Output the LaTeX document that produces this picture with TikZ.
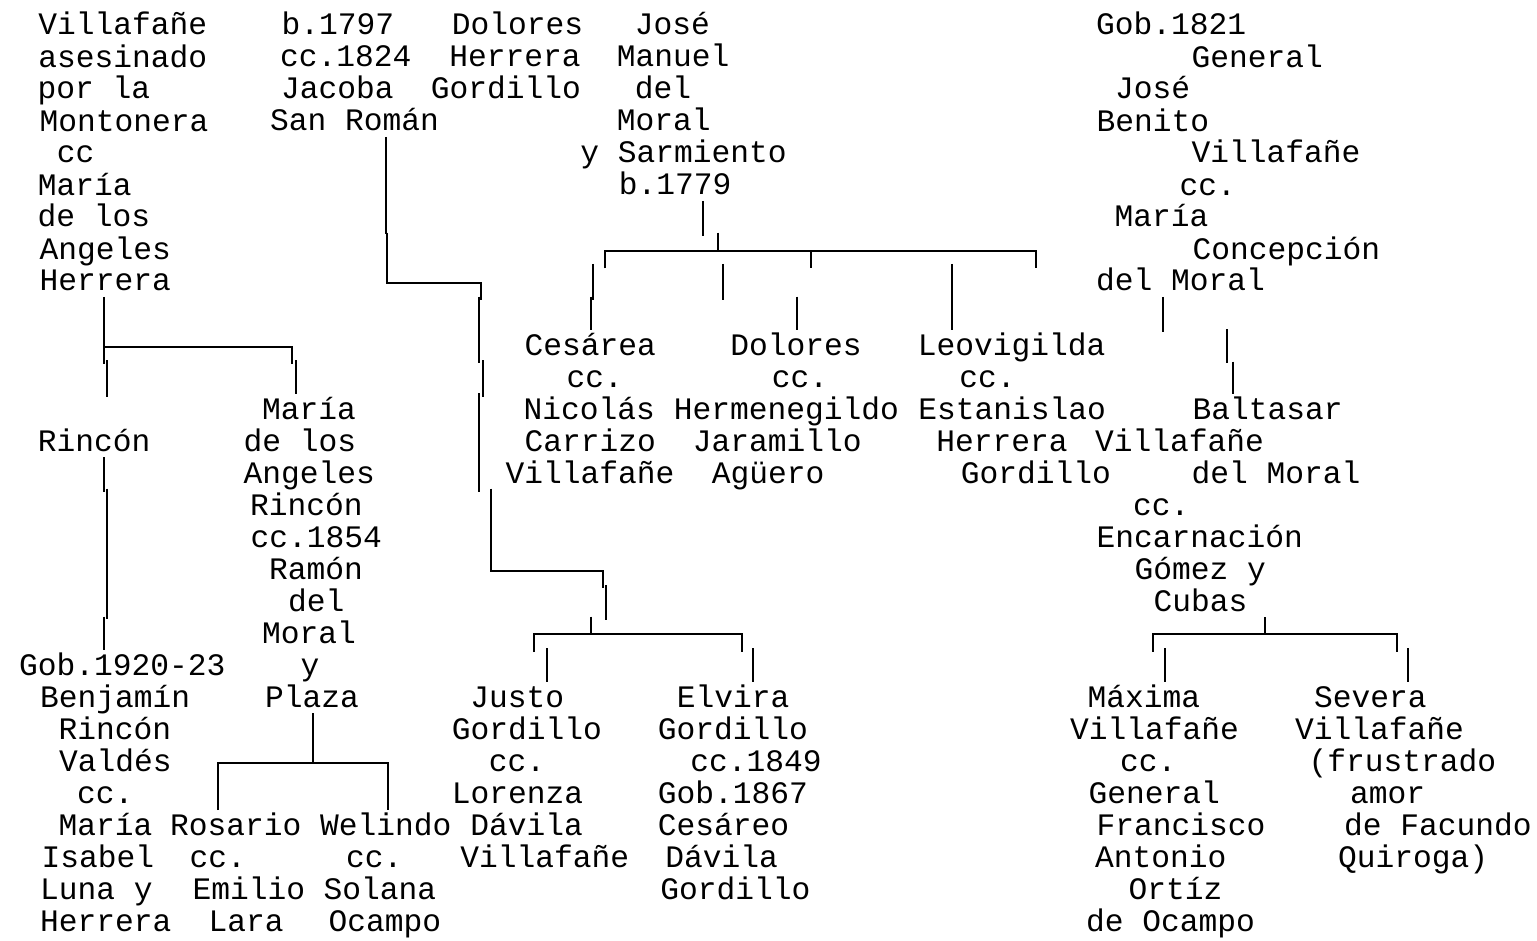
\documentclass[tikz,border=0pt]{standalone}
\usepackage{fontspec}
\newfontfamily\treemono{Liberation Mono}
\newcommand{\pad}[1]{\rule[-6pt]{0pt}{31pt}\hspace*{#1pt}}
\newcommand{\treefont}{\treemono\fontsize{31.25pt}{32pt}\selectfont\lineskiplimit -100pt\relax}

\begin{document}
\begin{tikzpicture}[x=1pt,y=-1pt,
  person/.style={font=\treefont, inner sep=0pt, outer sep=0pt, align=left, anchor=north west},
  link/.style={line width=2pt}]
\useasboundingbox[fill=white] (0,0) rectangle (1537,941);

\node[person] (villa) at (37.5,10) {\pad{1}Villafañe\\ \pad{1}asesinado\\ \pad{0}por la\\ \pad{2}Montonera\\ \pad{19.5}cc\\ \pad{0.5}María\\ \pad{0}de los\\ \pad{2}Angeles\\ \pad{2}Herrera};
\node[person] (roman) at (270.2,10) {\pad{11.5}b.1797\\ \pad{10}cc.1824\\ \pad{11}Jacoba\\ \pad{0}San Román};
\node[person] (dolhg) at (430.8,10) {\pad{21}Dolores\\ \pad{18.5}Herrera\\ \pad{0}Gordillo};
\node[person] (moral) at (580.3,10) {\pad{54.5}José\\ \pad{36.5}Manuel\\ \pad{54.5}del\\ \pad{36.5}Moral\\ \pad{0}y Sarmiento\\ \pad{38.5}b.1779};
\node[person] (benito) at (1096.2,10) {\pad{0}Gob.1821\\ \pad{95.5}General\\ \pad{19}José\\ \pad{0.5}Benito\\ \pad{95.5}Villafañe\\ \pad{83.5}cc.\\ \pad{18.5}María\\ \pad{96.5}Concepción\\ \pad{0}del Moral};

\node[person] (cesarea) at (505.5,330) {\pad{19}Cesárea\\ \pad{61}cc.\\ \pad{18}Nicolás\\ \pad{19}Carrizo\\ \pad{0}Villafañe};
\node[person] (dolores) at (673.8,330) {\pad{56.5}Dolores\\ \pad{98}cc.\\ \pad{0}Hermenegildo\\ \pad{19}Jaramillo\\ \pad{38}Agüero};
\node[person] (leo) at (917.8,330) {\pad{0}Leovigilda\\ \pad{41.5}cc.\\ \pad{0.5}Estanislao\\ \pad{18.5}Herrera\\ \pad{43}Gordillo};

\node[person] (rincon) at (37.8,426) {\pad{0}Rincón};
\node[person] (mangeles) at (243.5,394) {\pad{18.5}María\\ \pad{0}de los\\ \pad{0}Angeles\\ \pad{6.5}Rincón\\ \pad{7}cc.1854\\ \pad{25.5}Ramón\\ \pad{44.5}del\\ \pad{18.5}Moral\\ \pad{57}y\\ \pad{21.5}Plaza};
\node[person] (baltasar) at (1095.2,394) {\pad{97.5}Baltasar\\ \pad{0}Villafañe\\ \pad{96.5}del Moral\\ \pad{38}cc.\\ \pad{1.5}Encarnación\\ \pad{39.5}Gómez y\\ \pad{58.5}Cubas};

\node[person] (benjamin) at (19.2,650) {\pad{0}Gob.1920-23\\ \pad{21}Benjamín\\ \pad{39.5}Rincón\\ \pad{40}Valdés\\ \pad{58}cc.\\ \pad{39.5}María\\ \pad{22.5}Isabel\\ \pad{21}Luna y\\ \pad{21}Herrera};
\node[person] (rosario) at (170.2,810) {\pad{0}Rosario\\ \pad{19.5}cc.\\ \pad{22.5}Emilio\\ \pad{38.5}Lara};
\node[person] (welindo) at (320.2,810) {\pad{0}Welindo\\ \pad{26}cc.\\ \pad{3.5}Solana\\ \pad{8.5}Ocampo};
\node[person] (justo) at (451.8,682) {\pad{18.5}Justo\\ \pad{0}Gordillo\\ \pad{37}cc.\\ \pad{0}Lorenza\\ \pad{18.5}Dávila\\ \pad{8.5}Villafañe};
\node[person] (elvira) at (657.8,682) {\pad{19}Elvira\\ \pad{0}Gordillo\\ \pad{32.5}cc.1849\\ \pad{0}Gob.1867\\ \pad{0}Cesáreo\\ \pad{7.5}Dávila\\ \pad{2.5}Gordillo};
\node[person] (maxima) at (1070.2,682) {\pad{17.5}Máxima\\ \pad{0}Villafañe\\ \pad{50}cc.\\ \pad{18.5}General\\ \pad{26.5}Francisco\\ \pad{25}Antonio\\ \pad{58.5}Ortíz\\ \pad{16}de Ocampo};
\node[person] (severa) at (1295.2,682) {\pad{19}Severa\\ \pad{0}Villafañe\\ \pad{13.5}(frustrado\\ \pad{55}amor\\ \pad{49}de Facundo\\ \pad{43}Quiroga)};

\coordinate (vbar) at (104.3,346.7);
\coordinate (mbar) at (717.7,250.7);
\coordinate (jbar) at (591,634);
\coordinate (pbar) at (312.7,762.7);
\coordinate (cbar) at (1265,634);
\coordinate (rtop) at (106.7,396.7);

\draw[link] (villa.south -| vbar) -- (104.3,364)
  (vbar) -- (292.3,346.7) -- (292.3,364)
  (106.7,360) -- (rtop)
  (296,360) -- (mangeles.north -| 296,0);
\draw[link] (rincon.south -| 104.3,0) -- (104.3,491.7)
  (106.7,488.7) -- (106.7,619)
  (104.3,616.7) -- (benjamin.north -| 104.3,0);
\draw[link] (mangeles.south -| pbar) -- (pbar)
  (rosario.north -| 218.3,0) |- (pbar) -| (welindo.north -| 387.7,0);

\draw[link] (roman.south -| 385.7,0) -- (385.7,234)
  (387.3,232.7) -- (387.3,282.7) -- (481,282.7) -- (481,300)
  (479,296.7) -- (479,363)
  (482.7,360) -- (482.7,396.7)
  (479,393) -- (479,491.7)
  (490.7,488.7) -- (490.7,570.7) -- (603.3,570.7) -- (603.3,588.3)
  (605.7,585) -- (605.7,620);
\draw[link] (591,616.7) -- (jbar)
  (534.3,652) |- (jbar) -| (741.7,652)
  (546.7,648.3) -- (justo.north -| 546.7,0)
  (752.7,648.3) -- (elvira.north -| 752.7,0);

\draw[link] (moral.south -| 703.3,0) -- (703.3,236)
  (717.7,232.7) -- (mbar)
  (605,268.3) |- (mbar) -| (1036,268.3)
  (811,250.7) -- (811,268.3)
  (593.3,264) -- (593.3,300)
  (591,296.7) -- (cesarea.north -| 591,0)
  (722.7,264) -- (722.7,300)
  (796.7,296.7) -- (dolores.north -| 796.7,0)
  (952.3,264) -- (leo.north -| 952.3,0);

\draw[link] (benito.south -| 1163.3,0) -- (1163.3,331.7)
  (1227.3,329.3) -- (1227.3,363.3)
  (1232.7,361.7) -- (baltasar.north -| 1232.7,0);
\draw[link] (baltasar.south -| cbar) -- (cbar)
  (1152.7,651.7) |- (cbar) -| (1396.7,651.7)
  (1165,648.3) -- (maxima.north -| 1165,0)
  (1408.3,648.3) -- (severa.north -| 1408.3,0);
\end{tikzpicture}
\end{document}
